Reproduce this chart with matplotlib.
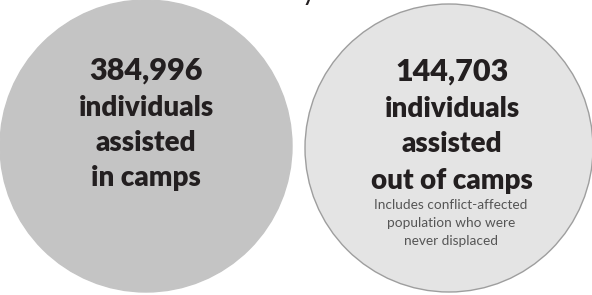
import matplotlib
matplotlib.use("Agg")
import matplotlib.pyplot as plt
from matplotlib.patches import Circle

# circles: centre x, centre y, radius (pixel space of the original graphic)
circle_cx = [146, 449]
circle_cy = [146, 148]
circle_r = [146, 144]
circle_fill = ["#c4c4c4", "#e4e4e4"]
circle_edge = ["#c4c4c4", "#9e9e9e"]

big_numbers = ["384,996", "144,703"]
main_lines = [["individuals", "assisted", "in camps"],
              ["individuals", "assisted", "out of camps"]]
note_lines = ["Includes conflict-affected", "population who were", "never displaced"]

plt.rcParams['font.family'] = ['Lato', 'DejaVu Sans']

fig = plt.figure(figsize=(5.92, 2.95), dpi=100)
ax = fig.add_axes([0, 0, 1, 1])
ax.set_xlim(0, 592)
ax.set_ylim(295, 0)
ax.set_aspect('equal')
ax.axis('off')

for i in range(2):
    ax.add_patch(Circle((circle_cx[i], circle_cy[i]), circle_r[i],
                        facecolor=circle_fill[i], edgecolor=circle_edge[i], lw=1))

txt = "#231f20"
num_y = [71, 72]
line_y = [[108, 143, 178], [109, 144, 181]]
text_x = [146, 452]
for i in range(2):
    ax.text(text_x[i], num_y[i], big_numbers[i], ha='center', va='center',
            fontsize=22, fontweight='heavy', color=txt)
    for s, y in zip(main_lines[i], line_y[i]):
        ax.text(text_x[i], y, s, ha='center', va='center',
                fontsize=20, fontweight='heavy', color=txt)

for s, y in zip(note_lines, [205, 223, 241]):
    ax.text(451, y, s, ha='center', va='center', fontsize=9.8, color="#555555")

# tail of the cut-off title above the circles
ax.text(309, 5, "y", ha='center', va='bottom', fontsize=20, color=txt)

fig.savefig("out.png", dpi=100)
